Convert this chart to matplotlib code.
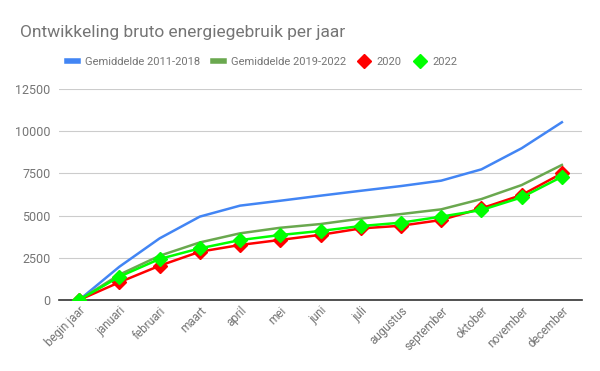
import numpy as np
import matplotlib.pyplot as plt
from matplotlib.lines import Line2D

plt.rcParams['font.family'] = ['Roboto', 'DejaVu Sans']

maanden = ['begin jaar', 'januari', 'februari', 'maart', 'april', 'mei', 'juni',
           'juli', 'augustus', 'september', 'oktober', 'november', 'december']
gem_2011_2018 = [0, 1970, 3650, 4940, 5590, 5880, 6180, 6470, 6750, 7070, 7740, 8990, 10530]
gem_2019_2022 = [0, 1500, 2620, 3410, 3950, 4280, 4500, 4820, 5090, 5370, 5980, 6810, 8000]
jaar_2020 = [0, 1050, 2030, 2860, 3260, 3560, 3860, 4240, 4400, 4740, 5430, 6220, 7500]
jaar_2022 = [0, 1380, 2430, 3060, 3550, 3850, 4090, 4380, 4580, 4940, 5330, 6080, 7300]

grijs = '#757575'
x = np.arange(len(maanden))

fig = plt.figure(figsize=(6, 3.71), dpi=100)
ax = fig.add_axes([59/600, 1 - 300/371, 523/600, 211/371])

ax.plot(x, gem_2011_2018, color='#4285F4', lw=1.8, zorder=3)
ax.plot(x, gem_2019_2022, color='#6AA84F', lw=1.8, zorder=3)
ax.plot(x, jaar_2020, color='#FF0000', lw=1.8, marker='D', ms=7, zorder=4)
ax.plot(x, jaar_2022, color='#00FF00', lw=1.8, marker='D', ms=7, zorder=5)

ax.set_xlim(-0.5, 12.5)
ax.set_ylim(0, 12500)
ax.set_yticks(np.arange(0, 12501, 2500))
ax.grid(axis='y', color='#cccccc', lw=0.8)
ax.set_axisbelow(True)
for s in ['top', 'right', 'left']:
    ax.spines[s].set_visible(False)
ax.spines['bottom'].set_color('#333333')
ax.spines['bottom'].set_linewidth(1.2)
ax.tick_params(axis='y', length=0, labelcolor=grijs, labelsize=9, pad=6)
ax.tick_params(axis='x', length=0, labelcolor=grijs, labelsize=8.5, pad=3)
ax.set_xticks(x)
ax.set_xticklabels(maanden, rotation=45, ha='right', rotation_mode='anchor')

fig.text(20/600, 1 - 32/371, 'Ontwikkeling bruto energiegebruik per jaar',
         fontsize=12.5, color=grijs, va='center', ha='left')

handles = [
    Line2D([], [], color='#4285F4', lw=4),
    Line2D([], [], color='#6AA84F', lw=4),
    Line2D([], [], color='#FF0000', marker='D', ls='none', ms=7),
    Line2D([], [], color='#00FF00', marker='D', ls='none', ms=7),
]
labels = ['Gemiddelde 2011-2018', 'Gemiddelde 2019-2022', '2020', '2022']
leg = fig.legend(handles, labels, loc='center', bbox_to_anchor=(0.437, 1 - 62/371),
                 ncol=4, frameon=False, fontsize=8, handlelength=1.0,
                 columnspacing=1.1, handletextpad=0.65)
for t in leg.get_texts():
    t.set_color(grijs)

fig.savefig('out.png', dpi=100)
